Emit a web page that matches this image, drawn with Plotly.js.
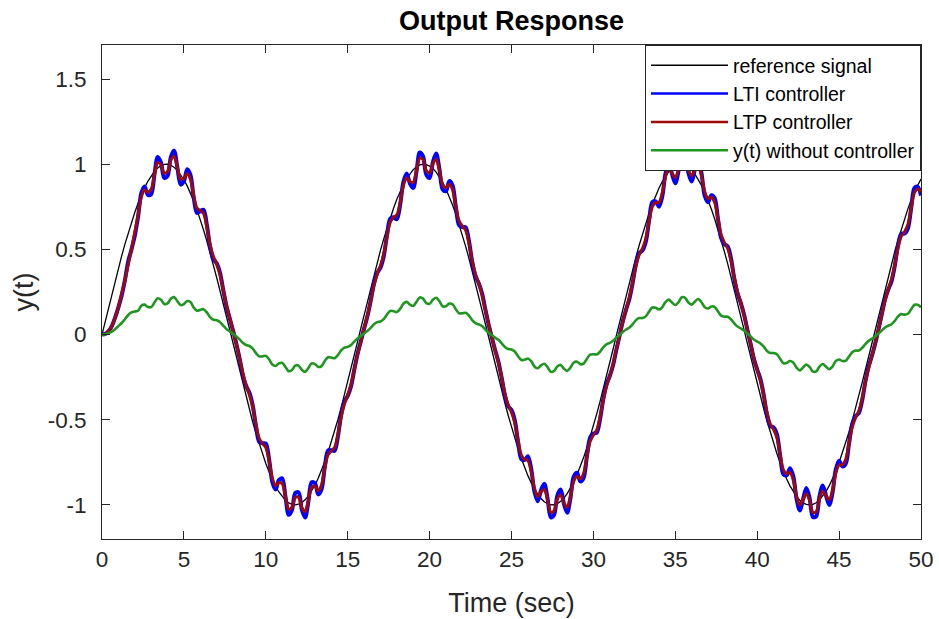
<!DOCTYPE html>
<html><head><meta charset="utf-8">
<script src="https://cdn.plot.ly/plotly-3.0.1.min.js"></script>
<style>html,body{margin:0;padding:0;background:#fff}#chart{width:939px;height:619px}</style>
</head><body><div id="chart"></div>
<script>
const timeSec = [0,0.2,0.4,0.6,0.8,1,1.2,1.4,1.6,1.8,2,2.2,2.4,2.6,2.8,3,3.2,3.4,3.6,3.8,4,4.2,4.4,4.6,4.8,5,5.2,5.4,5.6,5.8,6,6.2,6.4,6.6,6.8,7,7.2,7.4,7.6,7.8,8,8.2,8.4,8.6,8.8,9,9.2,9.4,9.6,9.8,10,10.2,10.4,10.6,10.8,11,11.2,11.4,11.6,11.8,12,12.2,12.4,12.6,12.8,13,13.2,13.4,13.6,13.8,14,14.2,14.4,14.6,14.8,15,15.2,15.4,15.6,15.8,16,16.2,16.4,16.6,16.8,17,17.2,17.4,17.6,17.8,18,18.2,18.4,18.6,18.8,19,19.2,19.4,19.6,19.8,20,20.2,20.4,20.6,20.8,21,21.2,21.4,21.6,21.8,22,22.2,22.4,22.6,22.8,23,23.2,23.4,23.6,23.8,24,24.2,24.4,24.6,24.8,25,25.2,25.4,25.6,25.8,26,26.2,26.4,26.6,26.8,27,27.2,27.4,27.6,27.8,28,28.2,28.4,28.6,28.8,29,29.2,29.4,29.6,29.8,30,30.2,30.4,30.6,30.8,31,31.2,31.4,31.6,31.8,32,32.2,32.4,32.6,32.8,33,33.2,33.4,33.6,33.8,34,34.2,34.4,34.6,34.8,35,35.2,35.4,35.6,35.8,36,36.2,36.4,36.6,36.8,37,37.2,37.4,37.6,37.8,38,38.2,38.4,38.6,38.8,39,39.2,39.4,39.6,39.8,40,40.2,40.4,40.6,40.8,41,41.2,41.4,41.6,41.8,42,42.2,42.4,42.6,42.8,43,43.2,43.4,43.6,43.8,44,44.2,44.4,44.6,44.8,45,45.2,45.4,45.6,45.8,46,46.2,46.4,46.6,46.8,47,47.2,47.4,47.6,47.8,48,48.2,48.4,48.6,48.8,49,49.2,49.4,49.6,49.8,50];

const referenceSignal = [0,0.080,0.159,0.238,0.315,0.389,0.462,0.531,0.597,0.659,0.717,0.771,0.819,0.862,0.900,0.932,0.958,0.978,0.992,0.999,1.000,0.994,0.982,0.964,0.940,0.909,0.873,0.831,0.784,0.732,0.676,0.614,0.549,0.481,0.409,0.335,0.259,0.181,0.101,0.022,-0.058,-0.138,-0.217,-0.294,-0.369,-0.443,-0.513,-0.580,-0.643,-0.702,-0.757,-0.807,-0.851,-0.891,-0.924,-0.952,-0.973,-0.988,-0.997,-1.000,-0.996,-0.986,-0.970,-0.947,-0.918,-0.884,-0.843,-0.798,-0.747,-0.691,-0.631,-0.567,-0.500,-0.429,-0.355,-0.279,-0.202,-0.123,-0.043,0.037,0.116,0.195,0.273,0.349,0.423,0.494,0.562,0.626,0.687,0.742,0.794,0.840,0.880,0.916,0.945,0.968,0.985,0.996,1.000,0.998,0.989,0.975,0.954,0.926,0.893,0.855,0.810,0.761,0.707,0.648,0.585,0.518,0.448,0.375,0.300,0.223,0.144,0.065,-0.015,-0.095,-0.174,-0.253,-0.329,-0.403,-0.475,-0.544,-0.609,-0.671,-0.728,-0.780,-0.828,-0.870,-0.907,-0.937,-0.962,-0.981,-0.993,-0.999,-0.999,-0.992,-0.979,-0.960,-0.934,-0.903,-0.866,-0.823,-0.775,-0.722,-0.664,-0.602,-0.537,-0.467,-0.395,-0.321,-0.244,-0.166,-0.086,-0.006,0.074,0.153,0.232,0.309,0.384,0.456,0.526,0.592,0.655,0.713,0.767,0.816,0.859,0.897,0.930,0.956,0.976,0.990,0.998,1.000,0.995,0.983,0.966,0.942,0.912,0.876,0.835,0.788,0.737,0.680,0.619,0.555,0.486,0.415,0.341,0.265,0.187,0.108,0.028,-0.052,-0.132,-0.210,-0.288,-0.363,-0.437,-0.507,-0.575,-0.638,-0.698,-0.753,-0.803,-0.848,-0.888,-0.922,-0.950,-0.972,-0.988,-0.997,-1.000,-0.997,-0.987,-0.971,-0.949,-0.921,-0.887,-0.847,-0.802,-0.751,-0.696,-0.636,-0.573,-0.505,-0.435,-0.361,-0.285,-0.208,-0.129,-0.050,0.030,0.110,0.189,0.267,0.343,0.417,0.488,0.556,0.621,0.682,0.738,0.790,0.836,0.877,0.913];

const ltiController = [0,0.004,0.02,0.05,0.10,0.16,0.23,0.32,0.43,0.50,0.58,0.69,0.830,0.870,0.820,0.823,0.939,1.043,1.010,0.920,0.931,1.041,1.080,0.982,0.880,0.901,0.971,0.938,0.804,0.714,0.725,0.733,0.645,0.515,0.443,0.419,0.365,0.264,0.166,0.095,0.023,-0.053,-0.140,-0.237,-0.302,-0.341,-0.415,-0.538,-0.630,-0.638,-0.640,-0.731,-0.866,-0.909,-0.854,-0.844,-0.951,-1.058,-1.029,-0.930,-0.926,-1.028,-1.074,-0.980,-0.867,-0.872,-0.938,-0.909,-0.779,-0.680,-0.679,-0.682,-0.599,-0.472,-0.393,-0.360,-0.304,-0.207,-0.114,-0.040,0.035,0.106,0.196,0.297,0.361,0.393,0.460,0.584,0.681,0.688,0.677,0.761,0.896,0.946,0.887,0.861,0.958,1.069,1.046,0.939,0.919,1.012,1.063,0.972,0.851,0.842,0.901,0.877,0.750,0.643,0.631,0.630,0.551,0.427,0.343,0.302,0.243,0.149,0.060,-0.016,-0.091,-0.159,-0.253,-0.358,-0.420,-0.443,-0.503,-0.628,-0.731,-0.736,-0.714,-0.787,-0.922,-0.979,-0.915,-0.875,-0.961,-1.073,-1.057,-0.945,-0.910,-0.993,-1.046,-0.960,-0.833,-0.811,-0.862,-0.842,-0.718,-0.605,-0.580,-0.576,-0.500,-0.380,-0.293,-0.243,-0.180,-0.090,-0.005,0.080,0.148,0.211,0.305,0.416,0.479,0.494,0.545,0.670,0.777,0.782,0.751,0.809,0.945,1.007,0.943,0.888,0.961,1.075,1.065,0.949,0.898,0.971,1.025,0.946,0.814,0.777,0.818,0.802,0.683,0.566,0.531,0.518,0.447,0.330,0.241,0.185,0.117,0.029,-0.055,-0.143,-0.205,-0.262,-0.355,-0.472,-0.537,-0.545,-0.584,-0.708,-0.821,-0.826,-0.784,-0.830,-0.963,-1.032,-0.967,-0.901,-0.960,-1.071,-1.067,-0.950,-0.886,-0.945,-1.000,-0.927,-0.791,-0.741,-0.774,-0.759,-0.644,-0.525,-0.479,-0.461,-0.390,-0.279,-0.189,-0.126,-0.054,0.028,0.116,0.205,0.264,0.312,0.404,0.525,0.593,0.593,0.623,0.742,0.860,0.868,0.816];

const ltpController = [0,0.004,0.02,0.05,0.10,0.16,0.24,0.32,0.41,0.50,0.60,0.70,0.807,0.850,0.836,0.853,0.937,1.010,0.998,0.947,0.957,1.025,1.047,0.982,0.913,0.916,0.946,0.912,0.814,0.742,0.728,0.711,0.632,0.528,0.458,0.415,0.353,0.262,0.172,0.098,0.023,-0.055,-0.139,-0.229,-0.299,-0.352,-0.426,-0.528,-0.610,-0.640,-0.664,-0.741,-0.843,-0.887,-0.869,-0.875,-0.951,-1.025,-1.014,-0.956,-0.955,-1.016,-1.039,-0.976,-0.898,-0.890,-0.917,-0.883,-0.786,-0.706,-0.683,-0.663,-0.587,-0.483,-0.407,-0.358,-0.294,-0.205,-0.117,-0.042,0.036,0.110,0.196,0.288,0.356,0.404,0.473,0.575,0.660,0.688,0.703,0.773,0.874,0.920,0.899,0.894,0.962,1.036,1.027,0.963,0.950,1.003,1.029,0.965,0.880,0.862,0.883,0.851,0.754,0.668,0.637,0.612,0.538,0.435,0.355,0.301,0.235,0.147,0.062,-0.016,-0.093,-0.165,-0.253,-0.346,-0.413,-0.456,-0.519,-0.621,-0.707,-0.733,-0.739,-0.802,-0.902,-0.951,-0.924,-0.909,-0.969,-1.043,-1.034,-0.966,-0.941,-0.988,-1.013,-0.950,-0.861,-0.832,-0.847,-0.815,-0.719,-0.628,-0.589,-0.561,-0.487,-0.386,-0.304,-0.244,-0.175,-0.088,-0.006,0.077,0.150,0.219,0.307,0.404,0.470,0.507,0.564,0.664,0.752,0.776,0.776,0.829,0.926,0.977,0.948,0.922,0.972,1.045,1.040,0.967,0.932,0.969,0.993,0.933,0.838,0.799,0.806,0.777,0.681,0.586,0.540,0.505,0.434,0.335,0.251,0.186,0.114,0.029,-0.054,-0.138,-0.207,-0.272,-0.358,-0.458,-0.525,-0.557,-0.605,-0.704,-0.794,-0.817,-0.809,-0.852,-0.948,-1.000,-0.969,-0.935,-0.974,-1.043,-1.040,-0.964,-0.919,-0.947,-0.970,-0.912,-0.813,-0.765,-0.765,-0.734,-0.641,-0.544,-0.489,-0.451,-0.379,-0.281,-0.197,-0.127,-0.052,0.029,0.114,0.199,0.265,0.324,0.409,0.510,0.578,0.604,0.646,0.740,0.833,0.855,0.839];

const withoutController = [0,0.002,0.008,0.018,0.032,0.05,0.068,0.09,0.115,0.13,0.135,0.14,0.169,0.176,0.162,0.161,0.188,0.213,0.204,0.180,0.183,0.210,0.220,0.196,0.173,0.179,0.197,0.191,0.159,0.140,0.145,0.149,0.130,0.102,0.087,0.084,0.074,0.053,0.032,0.019,0.004,-0.011,-0.028,-0.048,-0.061,-0.067,-0.082,-0.109,-0.128,-0.128,-0.125,-0.145,-0.176,-0.184,-0.169,-0.166,-0.190,-0.215,-0.208,-0.182,-0.182,-0.207,-0.219,-0.196,-0.169,-0.173,-0.190,-0.185,-0.155,-0.133,-0.135,-0.139,-0.121,-0.093,-0.077,-0.072,-0.062,-0.041,-0.023,-0.009,0.007,0.021,0.039,0.061,0.073,0.077,0.091,0.118,0.139,0.137,0.132,0.151,0.181,0.192,0.176,0.168,0.192,0.218,0.211,0.185,0.181,0.204,0.216,0.196,0.166,0.166,0.182,0.178,0.149,0.125,0.125,0.128,0.112,0.085,0.067,0.060,0.050,0.030,0.012,-0.003,-0.018,-0.031,-0.051,-0.073,-0.085,-0.087,-0.099,-0.127,-0.149,-0.148,-0.140,-0.156,-0.187,-0.198,-0.181,-0.171,-0.191,-0.219,-0.214,-0.187,-0.178,-0.200,-0.213,-0.194,-0.164,-0.159,-0.174,-0.171,-0.143,-0.118,-0.115,-0.117,-0.101,-0.075,-0.057,-0.049,-0.036,-0.018,-0.001,0.016,0.030,0.041,0.061,0.085,0.097,0.097,0.107,0.135,0.159,0.157,0.147,0.160,0.191,0.205,0.188,0.174,0.191,0.219,0.216,0.188,0.176,0.194,0.209,0.190,0.160,0.153,0.165,0.163,0.137,0.111,0.105,0.105,0.090,0.066,0.047,0.036,0.024,0.006,-0.011,-0.029,-0.041,-0.052,-0.071,-0.096,-0.108,-0.108,-0.115,-0.142,-0.168,-0.167,-0.155,-0.164,-0.194,-0.210,-0.193,-0.176,-0.190,-0.217,-0.216,-0.188,-0.173,-0.189,-0.203,-0.187,-0.155,-0.146,-0.155,-0.154,-0.129,-0.104,-0.094,-0.094,-0.079,-0.056,-0.037,-0.025,-0.011,0.006,0.023,0.042,0.052,0.061,0.080,0.107,0.120,0.117,0.122,0.149,0.175,0.175,0.160];

const seriesNames = ['reference signal', 'LTI controller', 'LTP controller', 'y(t) without controller'];
const seriesColors = ['#000000', '#0000ff', '#9e0a0a', '#1f961f'];
const xTickValues = [0, 5, 10, 15, 20, 25, 30, 35, 40, 45, 50];
const yTickValues = [-1, -0.5, 0, 0.5, 1, 1.5];
const yTickLabels = ['-1', '-0.5', '0', '0.5', '1', '1.5'];

const FONT = 'Arial, "Liberation Sans", Helvetica, sans-serif';
const AX = '#262626';

const seriesData = [referenceSignal, ltiController, ltpController, withoutController];
const plotWidths = [1.3, 4, 3, 2.6];
const legendWidths = [1.5, 2.5, 2.5, 2.5];

const traces = [];
seriesData.forEach((ys, i) => {
  traces.push({x: timeSec, y: ys, name: seriesNames[i], type: 'scatter', mode: 'lines', showlegend: false,
    line: i === 0 ? {color: seriesColors[i], width: plotWidths[i]}
                  : {color: seriesColors[i], width: plotWidths[i], shape: 'spline', smoothing: 0.9}});
});
// legend entries (same series, legend-only styling)
seriesNames.forEach((nm, i) => {
  traces.push({x: [null], y: [null], name: nm, type: 'scatter', mode: 'lines', showlegend: true,
    hoverinfo: 'skip', line: {color: seriesColors[i], width: legendWidths[i]}});
});

const axisCommon = {
  showline: true, linecolor: AX, linewidth: 1, mirror: 'ticks',
  ticks: 'inside', ticklen: 8, tickwidth: 1, tickcolor: AX,
  showgrid: false, zeroline: false, automargin: false,
  tickfont: {family: FONT, size: 22.5, color: AX}
};

const layout = {
  width: 939, height: 619,
  margin: {l: 102, r: 18, t: 45, b: 80},
  paper_bgcolor: '#ffffff', plot_bgcolor: '#ffffff',
  font: {family: FONT, color: AX},
  title: {text: '<b>Output Response</b>', font: {family: FONT, size: 27, color: '#000000'},
          xref: 'paper', x: 0.5, xanchor: 'center', yref: 'container', y: 0.967, yanchor: 'middle'},
  xaxis: Object.assign({}, axisCommon, {
    range: [0, 50], tickmode: 'array', tickvals: xTickValues, ticklabelstandoff: 0,
    title: {text: 'Time (sec)', font: {family: FONT, size: 27, color: AX}, standoff: 22}
  }),
  yaxis: Object.assign({}, axisCommon, {
    range: [-1.2, 1.7], tickmode: 'array', tickvals: yTickValues, ticktext: yTickLabels,
    ticklabelstandoff: 10,
    title: {text: 'y(t)', font: {family: FONT, size: 27, color: AX}, standoff: 6}
  }),
  showlegend: true,
  legend: {x: 1, xanchor: 'right', y: 1, yanchor: 'top', bgcolor: '#ffffff',
           bordercolor: AX, borderwidth: 1, itemwidth: 77,
           font: {family: FONT, size: 19.5, color: '#000000'}, traceorder: 'normal'}
};

Plotly.newPlot('chart', traces, layout, {displayModeBar: false, staticPlot: true});
</script>
</body></html>
